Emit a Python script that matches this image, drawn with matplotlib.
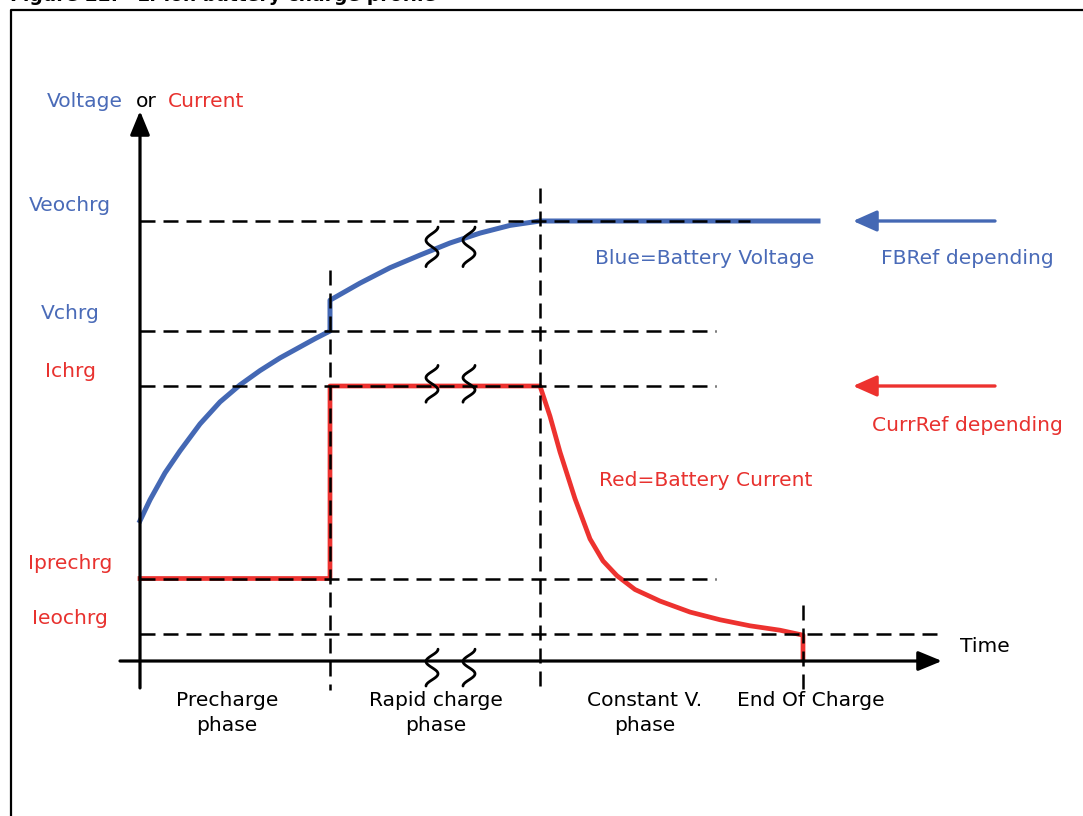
import numpy as np
import matplotlib.pyplot as plt

plt.rcParams['font.family'] = ['DejaVu Sans']

# Levels (arbitrary schematic units)
V_EOCHRG = 80
V_CHRG = 60
I_CHRG = 50
I_PRECHRG = 15
I_EOCHRG = 5

# Phase boundaries (time units)
T_PRE = 19
T_RAPID = 40
T_EOC = 66.3

# Battery voltage (blue)
volt_t = [0, 1, 2.5, 4, 6, 8, 10, 12, 14, 16, 17.5, 19,
          19, 22, 25, 28, 31, 34, 37, 40, 67.8]
volt_v = [25.5, 29.3, 34.2, 38.2, 43.1, 47.1, 50.2, 52.8, 55.1, 57.1, 58.6, 60,
          65.6, 68.7, 71.5, 73.8, 76, 77.8, 79.2, 80, 80]

# Battery current (red)
curr_t = [0, 19, 19, 40, 41, 42, 43.5, 45, 46.3, 47.7, 49.5, 52, 55, 58, 61, 64, 66.3, 66.3]
curr_v = [15, 15, 50, 50, 44.5, 38, 29.5, 22.2, 18.2, 15.5, 13, 10.9, 8.9, 7.5, 6.4, 5.6, 4.7, 0.2]

level_names = ['Veochrg', 'Vchrg', 'Ichrg', 'Iprechrg', 'Ieochrg']
level_values = [V_EOCHRG, V_CHRG, I_CHRG, I_PRECHRG, I_EOCHRG]
level_ends = [61, 57.6, 57.6, 57.6, 80.4]
level_label_v = [82.9, 63.1, 52.7, 17.8, 7.8]

phase_names = ['Precharge\nphase', 'Rapid charge\nphase', 'Constant V.\nphase', 'End Of Charge']
phase_centers = [8.7, 29.6, 50.5, 67.1]

blue = '#4468b4'
red = '#ed322f'
blue_txt = '#4a6bb8'
red_txt = '#e8322f'

fig = plt.figure(figsize=(10.83, 8.16), dpi=100)
ax = fig.add_axes([0, 0, 1, 1])
ax.set_xlim(-14, 94.3)
ax.set_ylim(-28.18, 120.18)
ax.set_axis_off()

# frame around the figure panel
ax.plot([11 / 1083, 11 / 1083, 1.05], [-0.05, 806 / 816, 806 / 816], color='k', lw=1.6,
        transform=ax.transAxes, clip_on=False)
fig.text(10 / 1083, 1 - 1 / 816, 'Figure 22.   Li-ion battery charge profile', fontsize=13.5,
         fontweight='bold', ha='left', va='baseline')

# curves
ax.plot(volt_t, volt_v, color=blue, lw=3.6, solid_joinstyle='round', zorder=3)
ax.plot(curr_t, curr_v, color=red, lw=3.4, solid_joinstyle='round', zorder=3)

# dashed guide lines
dash = dict(color='k', lw=1.8, dashes=(6, 3.2), zorder=4)
for val, end in zip(level_values, level_ends):
    ax.plot([0, end], [val, val], **dash)
ax.plot([T_PRE, T_PRE], [71, -5.3], **dash)
ax.plot([T_RAPID, T_RAPID], [86, -5.3], **dash)
ax.plot([T_EOC, T_EOC], [10.2, -5.3], **dash)

# axes with arrows
axis_style = dict(arrowstyle='-|>,head_length=0.8,head_width=0.33', color='k', lw=2.3,
                  mutation_scale=18, shrinkA=0, shrinkB=0)
ax.annotate('', xy=(0, 100), xytext=(0, -4.9), arrowprops=axis_style, zorder=5)
ax.annotate('', xy=(80.2, 0), xytext=(-2, 0), arrowprops=axis_style, zorder=5)

# reference arrows on the right
ax.annotate('', xy=(71.3, V_EOCHRG), xytext=(85.5, V_EOCHRG),
            arrowprops=dict(arrowstyle='-|>,head_length=0.9,head_width=0.4', color=blue, lw=2.4,
                            mutation_scale=16, shrinkA=0, shrinkB=0))
ax.annotate('', xy=(71.3, I_CHRG), xytext=(85.5, I_CHRG),
            arrowprops=dict(arrowstyle='-|>,head_length=0.9,head_width=0.4', color=red, lw=2.4,
                            mutation_scale=16, shrinkA=0, shrinkB=0))

# break marks
s = np.linspace(0, 1, 60)
for vc, h in [(75.3, 7.2), (50.4, 6.7), (-1.2, 6.7)]:
    for tc in [29.2, 32.9]:
        ax.plot(tc + 0.6 * np.cos(3 * np.pi * s), vc + h / 2 - h * s, color='k', lw=2.0,
                solid_capstyle='round', zorder=6)

fs = 14.6
# level labels
for name, lv, col in zip(level_names, level_label_v, [blue_txt, blue_txt, red_txt, red_txt, red_txt]):
    ax.text(-7, lv, name, color=col, fontsize=fs, ha='center', va='center')

ax.text(-9.3, 101.8, 'Voltage', color=blue_txt, fontsize=fs, ha='left', va='center')
ax.text(-0.4, 101.8, 'or', color='k', fontsize=fs, ha='left', va='center')
ax.text(2.8, 101.8, 'Current', color=red_txt, fontsize=fs, ha='left', va='center')

ax.text(56.5, 73.1, 'Blue=Battery Voltage', color=blue_txt, fontsize=fs, ha='center', va='center')
ax.text(82.7, 73.1, 'FBRef depending', color=blue_txt, fontsize=fs, ha='center', va='center')
ax.text(82.7, 42.9, 'CurrRef depending', color=red_txt, fontsize=fs, ha='center', va='center')
ax.text(56.6, 32.9, 'Red=Battery Current', color=red_txt, fontsize=fs, ha='center', va='center')
ax.text(84.5, 2.7, 'Time', color='k', fontsize=fs, ha='center', va='center')

for name, tc in zip(phase_names, phase_centers):
    ax.text(tc, -5.5, name, color='k', fontsize=fs, ha='center', va='top', linespacing=1.35)

fig.savefig('out.png', dpi=100)
